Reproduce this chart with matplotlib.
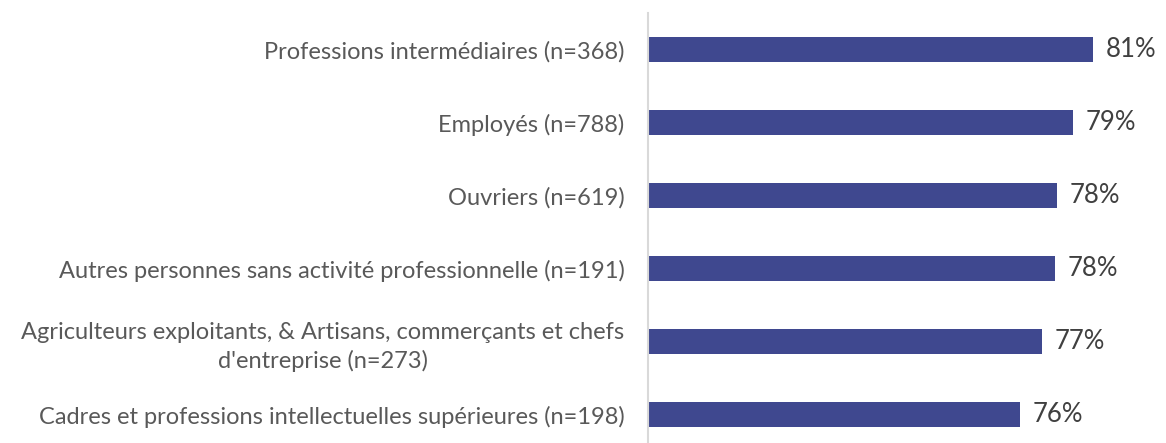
import matplotlib
matplotlib.use("Agg")
from matplotlib import pyplot as plt

# categories, top to bottom
categories = [
    "Professions intermédiaires (n=368)",
    "Employés (n=788)",
    "Ouvriers (n=619)",
    "Autres personnes sans activité professionnelle (n=191)",
    "Agriculteurs exploitants, & Artisans, commerçants et chefs\nd'entreprise (n=273)",
    "Cadres et professions intellectuelles supérieures (n=198)",
]
values = [80.6, 79.2, 78.1, 78.0, 77.1, 75.6]

plt.rcParams['font.family'] = ['Lato', 'DejaVu Sans']

fig = plt.figure(figsize=(11.66, 4.43), dpi=100)
# axes box in figure fractions (bottom runs a bit past the edge, like the original crop)
ax = fig.add_axes([648/1166, 1 - 451/443, (1157 - 648)/1166, 438/443])

y = list(range(len(categories)))
ax.barh(y, values, height=0.35, color='#3f488f', zorder=2)

for yi, v in zip(y, values):
    ax.annotate(f"{round(v)}%", xy=(v, yi), xytext=(9, 0), textcoords='offset points',
                va='center', ha='left', fontsize=18.5, color='#404040')

ax.set_xlim(50, 85)
ax.set_ylim(len(categories) - 0.5, -0.5)
ax.set_yticks(y)
ax.set_yticklabels(categories, fontsize=17, color='#595959', multialignment='center',
                   linespacing=1.4)
ax.tick_params(axis='y', length=0, pad=17)
ax.set_xticks([])

for s in ['top', 'right', 'bottom']:
    ax.spines[s].set_visible(False)
ax.spines['left'].set_color('#d9d9d9')
ax.spines['left'].set_linewidth(1.5)

plt.savefig('out.png', dpi=100)
